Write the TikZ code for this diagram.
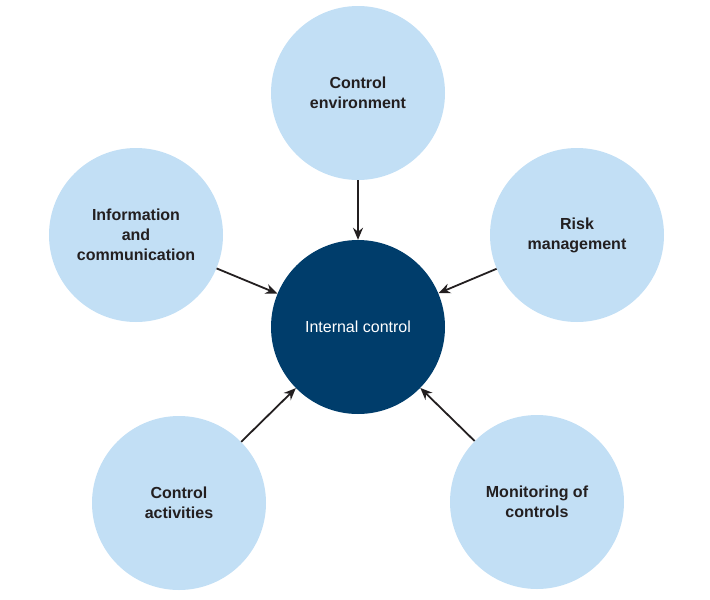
\documentclass[tikz,border=0pt]{standalone}
\usepackage{fontspec}
\setmainfont{Liberation Sans}
\usetikzlibrary{arrows.meta}
\definecolor{lb}{HTML}{C2DFF5}
\definecolor{db}{HTML}{003D6B}
\definecolor{ar}{HTML}{231F20}
\begin{document}
\begin{tikzpicture}[x=1pt,y=-1pt,
  outer/.style={circle,fill=lb,minimum size=174pt,inner sep=0pt,align=center,font=\fontsize{16}{20}\selectfont\bfseries,text=ar},
  inner/.style={circle,fill=db,minimum size=174pt,inner sep=0pt,align=center,font=\fontsize{16}{20}\selectfont,text=white},
  arr/.style={-{Stealth[length=12pt,width=10pt]},line width=1.8pt,draw=ar}]
\useasboundingbox (0,0) rectangle (710,600);
\node[inner] (c) at (358,327) {Internal control};
\node[outer] (t) at (358,93) {Control\\environment};
\node[outer] (l) at (136,235) {Information\\and\\communication};
\node[outer] (r) at (577,235) {Risk\\management};
\node[outer] (bl) at (179,503) {Control\\activities};
\node[outer] (br) at (537,502) {Monitoring of\\controls};
\foreach \n in {t,l,r,bl,br} \draw[arr] (\n) -- (c);
\end{tikzpicture}
\end{document}
